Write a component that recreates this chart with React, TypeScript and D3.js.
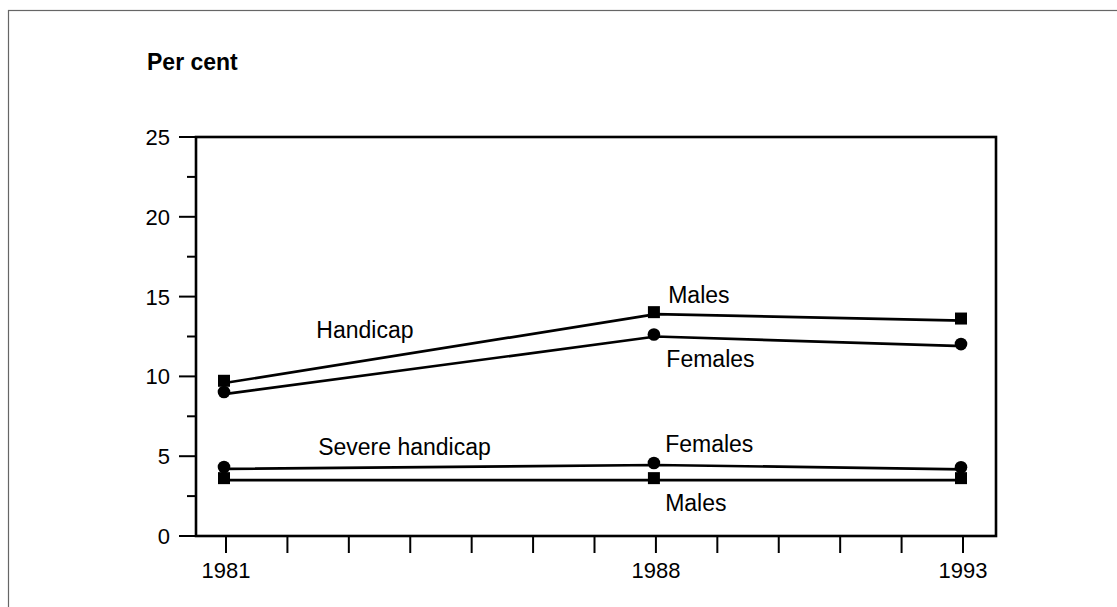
import React, { useEffect, useRef } from "react";
import * as d3 from "d3";

// years on the x axis, values in per cent
const years = [1981, 1988, 1993];
const handicapMales = [9.6, 13.9, 13.5];
const handicapFemales = [8.9, 12.5, 11.9];
const severeFemales = [4.2, 4.45, 4.18];
const severeMales = [3.5, 3.5, 3.5];

const yTicks = [0, 5, 10, 15, 20, 25];
const yMinorTicks = [2.5, 7.5, 12.5, 17.5, 22.5];
const xTickYears = d3.range(1981, 1994);
const xLabelYears = [1981, 1988, 1993];

// series labels: [text, year, value]
const annotations: [string, number, number][] = [
  ["Handicap", 1982.47, 12.4],
  ["Males", 1988.2, 14.6],
  ["Females", 1988.17, 10.6],
  ["Severe handicap", 1982.5, 5.07],
  ["Females", 1988.15, 5.24],
  ["Males", 1988.15, 1.58],
];

const seriesList = [
  { values: handicapMales, marker: "square" },
  { values: handicapFemales, marker: "circle" },
  { values: severeFemales, marker: "circle" },
  { values: severeMales, marker: "square" },
];

const W = 1117;
const H = 607;
const frame = { left: 196, right: 996, top: 137, bottom: 536 };
const font = "'Liberation Sans', Arial, sans-serif";

const App = () => {
  const ref = useRef<SVGSVGElement>(null);

  useEffect(() => {
    const svg = d3.select(ref.current);
    svg.selectAll("*").remove();

    const x = d3.scaleLinear().domain([1981, 1993]).range([226, 963]);
    const y = d3.scaleLinear().domain([0, 25]).range([frame.bottom, frame.top]);

    // outer grey border
    svg
      .append("rect")
      .attr("x", 8.5)
      .attr("y", 10.5)
      .attr("width", 1300)
      .attr("height", 800)
      .attr("fill", "none")
      .attr("stroke", "#666")
      .attr("stroke-width", 1.2);

    svg
      .append("text")
      .attr("x", 147)
      .attr("y", 70)
      .attr("font-family", font)
      .attr("font-weight", "bold")
      .attr("font-size", 23)
      .text("Per cent");

    // plot frame
    svg
      .append("rect")
      .attr("x", frame.left)
      .attr("y", frame.top)
      .attr("width", frame.right - frame.left)
      .attr("height", frame.bottom - frame.top)
      .attr("fill", "none")
      .attr("stroke", "#000")
      .attr("stroke-width", 2.6);

    // y axis ticks
    const yg = svg.append("g");
    yg.selectAll(".major")
      .data(yTicks)
      .enter()
      .append("line")
      .attr("x1", frame.left - 17)
      .attr("x2", frame.left)
      .attr("y1", (d) => y(d))
      .attr("y2", (d) => y(d))
      .attr("stroke", "#000")
      .attr("stroke-width", 2);
    yg.selectAll(".minor")
      .data(yMinorTicks)
      .enter()
      .append("line")
      .attr("x1", frame.left - 9)
      .attr("x2", frame.left)
      .attr("y1", (d) => y(d))
      .attr("y2", (d) => y(d))
      .attr("stroke", "#000")
      .attr("stroke-width", 2);
    yg.selectAll("text")
      .data(yTicks)
      .enter()
      .append("text")
      .attr("x", 170)
      .attr("y", (d) => y(d))
      .attr("dy", "0.36em")
      .attr("text-anchor", "end")
      .attr("font-family", font)
      .attr("font-size", 22)
      .text((d) => d);

    // x axis ticks
    const xg = svg.append("g");
    xg.selectAll("line")
      .data(xTickYears)
      .enter()
      .append("line")
      .attr("x1", (d) => x(d))
      .attr("x2", (d) => x(d))
      .attr("y1", frame.bottom)
      .attr("y2", frame.bottom + 17)
      .attr("stroke", "#000")
      .attr("stroke-width", 2);
    xg.selectAll("text")
      .data(xLabelYears)
      .enter()
      .append("text")
      .attr("x", (d) => x(d))
      .attr("y", 578)
      .attr("text-anchor", "middle")
      .attr("font-family", font)
      .attr("font-size", 22)
      .text((d) => d);

    const line = d3
      .line<number>()
      .x((d, i) => x(years[i]))
      .y((d) => y(d));

    seriesList.forEach((s) => {
      svg
        .append("path")
        .datum(s.values)
        .attr("d", line)
        .attr("fill", "none")
        .attr("stroke", "#000")
        .attr("stroke-width", 2.7);

      const g = svg.append("g").attr("transform", "translate(-2,-2)");
      if (s.marker === "square") {
        g.selectAll("rect")
          .data(s.values)
          .enter()
          .append("rect")
          .attr("x", (d, i) => x(years[i]) - 6)
          .attr("y", (d) => y(d) - 6)
          .attr("width", 12)
          .attr("height", 12)
          .attr("fill", "#000");
      } else {
        g.selectAll("circle")
          .data(s.values)
          .enter()
          .append("circle")
          .attr("cx", (d, i) => x(years[i]))
          .attr("cy", (d) => y(d))
          .attr("r", 6.3)
          .attr("fill", "#000");
      }
    });

    svg
      .append("g")
      .selectAll("text")
      .data(annotations)
      .enter()
      .append("text")
      .attr("x", (d) => x(d[1]))
      .attr("y", (d) => y(d[2]))
      .attr("font-family", font)
      .attr("font-size", 23)
      .text((d) => d[0]);
  }, []);

  return (
    <svg
      ref={ref}
      width={W}
      height={H}
      style={{ position: "absolute", left: 0, top: 0, background: "#fff" }}
    ></svg>
  );
};

export default App;
